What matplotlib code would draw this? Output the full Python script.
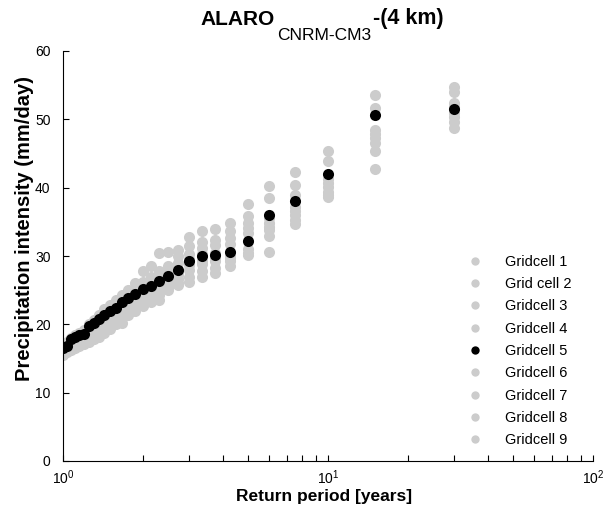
import matplotlib
matplotlib.use("Agg")
import matplotlib.pyplot as plt

plt.rcParams['font.family'] = ['Liberation Sans', 'DejaVu Sans']
plt.rcParams['mathtext.fontset'] = 'custom'
plt.rcParams['mathtext.rm'] = 'Liberation Sans'

# ---------------- 数据 ----------------
return_period = [1.0, 1.034, 1.071, 1.111, 1.154, 1.2, 1.25, 1.304, 1.364, 1.429,
                 1.5, 1.579, 1.667, 1.765, 1.875, 2.0, 2.143, 2.308, 2.5, 2.727,
                 3.0, 3.333, 3.75, 4.286, 5.0, 6.0, 7.5, 10.0, 15.0, 30.0]

gc1 = [17.0, 17.4, 18.0, 18.4, 18.7, 19.2, 20.0, 20.6, 21.4, 22.2, 22.8, 23.5, 24.3, 25.0, 26.1,
       27.8, 28.5, 30.4, 30.6, 30.9, 32.8, 33.7, 33.9, 34.8, 37.6, 40.2, 42.3, 45.4, 53.5, 54.7]
gc2 = [16.7, 17.1, 17.7, 18.1, 18.4, 18.9, 19.6, 20.2, 20.9, 21.6, 22.3, 22.9, 23.7, 24.5, 25.3,
       26.2, 27.0, 27.8, 28.5, 30.0, 31.5, 32.1, 32.4, 33.6, 35.8, 38.5, 40.4, 43.9, 51.6, 54.0]
gc3 = [16.5, 16.9, 17.4, 17.8, 18.1, 18.6, 19.2, 19.8, 20.4, 21.1, 21.8, 22.4, 23.2, 24.0, 24.8,
       25.6, 26.3, 27.0, 27.8, 29.0, 30.3, 31.2, 31.6, 32.7, 34.8, 35.5, 39.0, 41.3, 48.5, 52.4]
gc4 = [16.3, 16.7, 17.2, 17.5, 17.8, 18.3, 18.8, 19.4, 20.0, 20.6, 21.2, 21.8, 22.6, 23.4, 24.2,
       25.0, 25.6, 26.3, 27.0, 27.8, 29.5, 30.3, 30.5, 31.8, 34.1, 34.8, 37.2, 40.7, 47.9, 51.8]
gc5 = [16.5, 16.9, 17.9, 18.2, 18.4, 18.6, 19.8, 20.2, 20.8, 21.3, 21.9, 22.4, 23.2, 23.9, 24.4,
       25.1, 25.6, 26.3, 27.1, 28.0, 29.2, 30.0, 30.1, 30.6, 32.2, 36.0, 38.1, 42.0, 50.6, 51.5]
gc6 = [16.1, 16.5, 16.9, 17.2, 17.5, 18.0, 18.4, 19.0, 19.5, 20.1, 20.7, 21.3, 22.0, 22.9, 23.6,
       24.3, 25.0, 25.8, 26.5, 27.2, 28.7, 29.2, 29.5, 30.0, 33.3, 34.2, 36.6, 40.1, 47.2, 51.0]
gc7 = [15.9, 16.3, 16.7, 17.0, 17.2, 17.7, 18.0, 18.6, 19.1, 19.7, 20.3, 20.8, 21.4, 22.3, 23.0,
       23.7, 24.5, 25.2, 26.0, 26.7, 28.0, 28.9, 29.2, 29.7, 31.0, 33.8, 36.0, 39.4, 46.5, 50.4]
gc8 = [15.7, 16.1, 16.5, 16.8, 17.0, 17.4, 17.7, 18.2, 18.7, 19.2, 19.8, 20.3, 20.9, 21.8, 22.5,
       23.2, 23.8, 24.3, 25.5, 26.0, 27.0, 27.8, 28.3, 29.2, 30.5, 33.0, 35.3, 39.0, 45.4, 49.6]
gc9 = [15.5, 15.9, 16.3, 16.6, 16.8, 17.1, 17.4, 17.8, 18.2, 18.7, 19.3, 20.0, 20.2, 21.3, 22.0,
       22.7, 23.2, 23.6, 25.0, 25.8, 26.2, 26.9, 27.5, 28.5, 30.2, 30.6, 34.7, 38.7, 42.8, 48.8]

labels = ["Gridcell 1", "Grid cell 2", "Gridcell 3", "Gridcell 4", "Gridcell 5",
          "Gridcell 6", "Gridcell 7", "Gridcell 8", "Gridcell 9"]
series = [gc1, gc2, gc3, gc4, gc5, gc6, gc7, gc8, gc9]
y_ticks = [0, 10, 20, 30, 40, 50, 60]

# ---------------- 画图 ----------------
W, H = 607, 521
fig = plt.figure(figsize=(W/100, H/100), dpi=100)
ax = fig.add_axes([63/W, 1-461/H, 530/W, 410/H])

GRAY = "#cccccc"
for lb, ys in zip(labels, series):
    if lb == "Gridcell 5":
        ax.plot(return_period, ys, "o", color="black", ms=8, mec="none", label=lb, zorder=3)
    else:
        ax.plot(return_period, ys, "o", color=GRAY, ms=8, mec="none", label=lb, zorder=2)

ax.set_xscale("log")
ax.set_xlim(1, 100)
ax.set_ylim(0, 60)
ax.set_yticks(y_ticks)
ax.spines["top"].set_visible(False)
ax.spines["right"].set_visible(False)
ax.tick_params(direction="in", which="both", labelsize=10, length=4, width=0.8)
ax.tick_params(axis="y", pad=9)
ax.tick_params(axis="x", pad=5)

ax.set_xlabel("Return period [years]", fontsize=12.5, fontweight="bold")
ax.xaxis.set_label_coords(0.493, -0.068)
ax.set_ylabel("Precipitation intensity (mm/day)", fontsize=14.5, fontweight="bold")
ax.yaxis.set_label_coords(-0.055, 0.567)

ax.legend(loc="upper left", bbox_to_anchor=(0.732, 0.535), frameon=False, fontsize=10.5,
          markerscale=0.75, handletextpad=1.3, labelspacing=0.57, handlelength=1.5)

# 标题: ALARO + 下标 CNRM-CM3 + -(4 km), 分段拼
rend = fig.canvas.get_renderer()
x0 = 200
t1 = fig.text(x0/W, 1-25/H, "ALARO", fontsize=15, fontweight="bold", va="baseline")
x1 = t1.get_window_extent(rend).x1 + 3
t2 = fig.text(x1/W, 1-40/H, "CNRM-CM3", fontsize=12.5, va="baseline")
x2 = t2.get_window_extent(rend).x1 + 2
fig.text(x2/W, 1-24/H, "-(4 km)", fontsize=15.5, fontweight="bold", va="baseline")

fig.savefig("out.png", dpi=100)
